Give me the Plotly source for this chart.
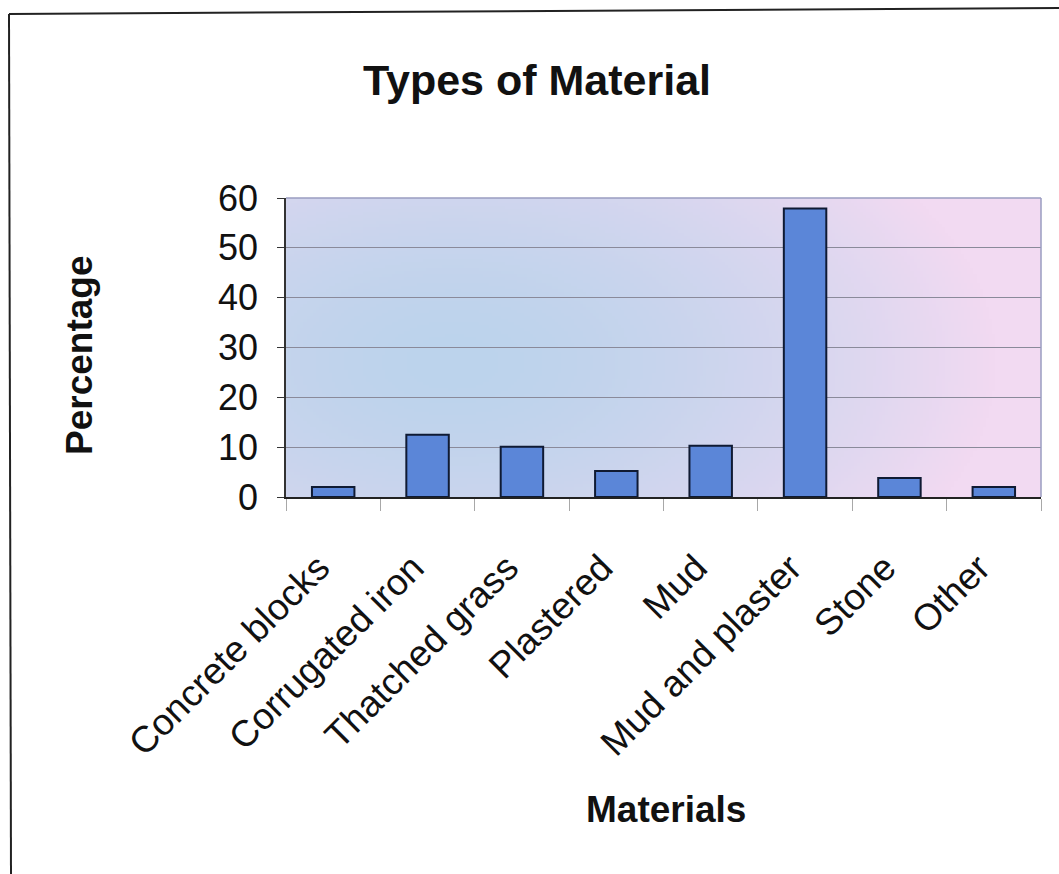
import base64
import struct
import zlib

import numpy as np
import plotly.graph_objects as go

# Wall materials and their share of dwellings (%)
materials = ["Concrete blocks", "Corrugated iron", "Thatched grass", "Plastered",
             "Mud", "Mud and plaster", "Stone", "Other"]
percentages = [2.0, 12.5, 10.1, 5.2, 10.3, 57.9, 3.8, 2.0]
y_ticks = [0, 10, 20, 30, 40, 50, 60]

W, H = 1059, 874
L, R, T, B = 286, 1041, 198, 497  # plot area in pixels


def gradient_png(w=240, h=100):
    """Soft blue fill on the left fading to pink towards the right."""
    xs = np.linspace(0, 1, w)[None, :]
    ys = np.linspace(0, 1, h)[:, None]
    d = np.sqrt(((xs - 0.22) / 0.72) ** 2 + ((ys - 0.55) / 1.05) ** 2)
    t = np.clip(d, 0, 1) ** 1.6
    blue = np.array([188, 211, 236], dtype=float)
    pink = np.array([242, 218, 242], dtype=float)
    img = (blue[None, None, :] * (1 - t[..., None]) + pink[None, None, :] * t[..., None])
    img = img.astype(np.uint8)
    raw = b"".join(b"\x00" + row.tobytes() for row in img)

    def chunk(tag, data):
        c = struct.pack(">I", len(data)) + tag + data
        return c + struct.pack(">I", zlib.crc32(tag + data) & 0xFFFFFFFF)

    png = b"\x89PNG\r\n\x1a\n"
    png += chunk(b"IHDR", struct.pack(">IIBBBBB", w, h, 8, 2, 0, 0, 0))
    png += chunk(b"IDAT", zlib.compress(raw, 9))
    png += chunk(b"IEND", b"")
    return "data:image/png;base64," + base64.b64encode(png).decode()


def px_x(p):
    return (p - L) / (R - L)


def px_y(p):
    return (B - p) / (B - T)


FONT = "Arial, 'Liberation Sans', Helvetica, sans-serif"

fig = go.Figure(
    go.Bar(
        x=materials,
        y=percentages,
        width=0.45,
        marker=dict(color="#5B86D8", line=dict(color="#0F1A33", width=2)),
        hoverinfo="x+y",
    )
)

fig.update_layout(
    width=W,
    height=H,
    margin=dict(l=L, r=W - R, t=T, b=H - B, pad=0),
    paper_bgcolor="white",
    plot_bgcolor="rgba(0,0,0,0)",
    showlegend=False,
    font=dict(family=FONT, color="#111"),
    title=dict(
        text="<b>Types of Material</b>",
        x=537 / W, xanchor="center",
        y=1 - 80 / H, yanchor="middle", yref="container",
        font=dict(size=43, family=FONT, color="#111"),
    ),
    images=[dict(
        source=gradient_png(),
        xref="paper", yref="paper", x=0, y=1, sizex=1, sizey=1,
        xanchor="left", yanchor="top", sizing="stretch", layer="below",
    )],
)

# slanted category labels end a little short of each tick centre
fig.update_xaxes(
    type="category",
    tickangle=-45,
    tickvals=materials,
    ticktext=[m + "\u00a0\u00a0" for m in materials],
    tickfont=dict(size=37, color="#111"),
    ticks="outside", tickson="boundaries", ticklen=12, tickcolor="#A8A8A8",
    ticklabelstandoff=18,
    showline=True, linecolor="#222", linewidth=1.5,
    showgrid=False,
    mirror=False,
)
fig.update_yaxes(
    range=[0, 60],
    tickvals=y_ticks,
    tickfont=dict(size=36, color="#111"),
    ticks="outside", ticklen=7, tickcolor="#333",
    ticklabelstandoff=12,
    showline=True, linecolor="#333", linewidth=1.5,
    showgrid=True, gridcolor="#8A8A9A", gridwidth=1,
    zeroline=False,
)

# light frame on the top and right of the plotting area
fig.add_shape(type="line", xref="paper", yref="paper", x0=0, y0=1, x1=1, y1=1,
              line=dict(color="#9A9CC0", width=1.5))
fig.add_shape(type="line", xref="paper", yref="paper", x0=1, y0=0, x1=1, y1=1,
              line=dict(color="#9A9CC0", width=1.5))

# page border: top edge and left edge
fig.add_shape(type="line", xref="paper", yref="paper",
              x0=px_x(9), y0=px_y(14), x1=px_x(1059), y1=px_y(8),
              line=dict(color="#222", width=2))
fig.add_shape(type="line", xref="paper", yref="paper",
              x0=px_x(9), y0=px_y(14), x1=px_x(11), y1=px_y(874),
              line=dict(color="#222", width=2))

# axis titles
fig.add_annotation(text="<b>Materials</b>", xref="paper", yref="paper",
                   x=px_x(666), y=px_y(809), xanchor="center", yanchor="middle",
                   showarrow=False, font=dict(size=37, family=FONT, color="#111"))
fig.add_annotation(text="<b>Percentage</b>", xref="paper", yref="paper",
                   x=px_x(79), y=px_y(355), xanchor="center", yanchor="middle",
                   showarrow=False, textangle=-90,
                   font=dict(size=37, family=FONT, color="#111"))

fig.write_html("out.html")
